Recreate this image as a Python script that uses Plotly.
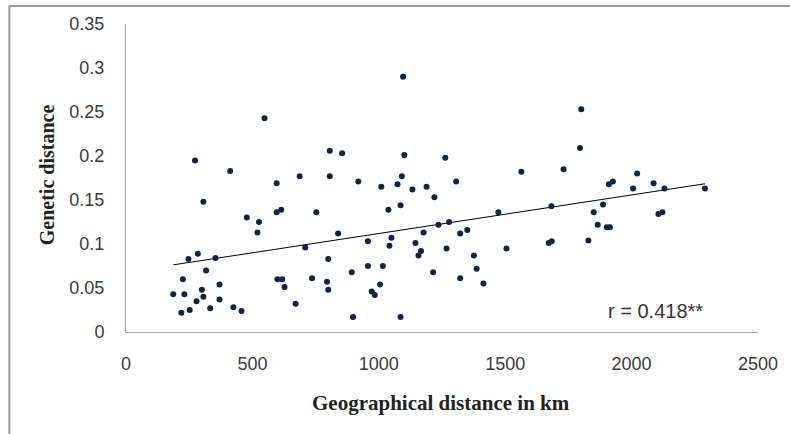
import numpy as np
import plotly.graph_objects as go

geo_km = [548, 273, 412, 306, 596, 687, 806, 806, 855, 596, 614, 753, 478, 526, 520, 839, 709,
          284, 247, 354, 317, 225, 370, 599, 618, 627, 736, 800, 795, 800, 187, 231, 300, 306,
          279, 370, 219, 252, 333, 425, 457, 671,
          1101, 1263, 1564, 919, 1010, 1074, 1091, 1133, 1189, 1306, 1220, 1038, 1086, 1473,
          1683, 957, 1050, 1042, 1145, 1177, 1236, 1278, 1322, 1350, 1268, 1167, 1157, 1376,
          1505, 1672, 957, 1016, 893, 1215, 1387, 1005, 972, 984, 1322, 1414, 898, 1086, 1096,
          1801, 1796, 1731, 2022, 1910, 1926, 2006, 2087, 2130, 2290, 1887, 1850, 1866, 1902,
          1914, 2106, 2122, 1684, 1829]
gen_dist = [0.243, 0.195, 0.183, 0.148, 0.169, 0.177, 0.206, 0.177, 0.203, 0.136, 0.139, 0.136,
            0.130, 0.125, 0.113, 0.112, 0.096, 0.089, 0.083, 0.084, 0.070, 0.060, 0.054, 0.060,
            0.060, 0.051, 0.061, 0.083, 0.057, 0.048, 0.043, 0.043, 0.048, 0.040, 0.035, 0.037,
            0.022, 0.025, 0.027, 0.028, 0.024, 0.032,
            0.201, 0.198, 0.182, 0.171, 0.165, 0.168, 0.177, 0.162, 0.165, 0.171, 0.153, 0.139,
            0.144, 0.136, 0.143, 0.103, 0.107, 0.098, 0.101, 0.113, 0.122, 0.125, 0.112, 0.116,
            0.095, 0.092, 0.087, 0.087, 0.095, 0.101, 0.075, 0.075, 0.068, 0.068, 0.072, 0.054,
            0.046, 0.042, 0.061, 0.055, 0.017, 0.017, 0.290,
            0.253, 0.209, 0.185, 0.180, 0.168, 0.171, 0.163, 0.169, 0.163, 0.163, 0.145, 0.136,
            0.122, 0.119, 0.119, 0.134, 0.136, 0.103, 0.104]

x_ticks = [0, 500, 1000, 1500, 2000, 2500]
y_ticks = [0, 0.05, 0.1, 0.15, 0.2, 0.25, 0.3, 0.35]
y_tick_labels = ["0", "0.05", "0.1", "0.15", "0.2", "0.25", "0.3", "0.35"]
x_title = "Geographical distance in km"
y_title = "Genetic distance"
r_label = "r = 0.418**"

x = np.array(geo_km, dtype=float)
y = np.array(gen_dist, dtype=float)
slope, intercept = np.polyfit(x, y, 1)
x_line = np.array([x.min(), x.max()])
y_line = slope * x_line + intercept

W, H = 790, 434
L, R, T, B = 126, 30, 24, 102
pw, ph = W - L - R, H - T - B

def px(xp):
    return (xp - L) / pw

def py(yp):
    return (H - B - yp) / ph

fig = go.Figure()
fig.add_trace(go.Scatter(x=x_line, y=y_line, mode="lines",
                         line=dict(color="black", width=1), hoverinfo="skip", showlegend=False))
fig.add_trace(go.Scatter(x=x, y=y, mode="markers",
                         marker=dict(color="#14213f", size=6, line=dict(width=0)),
                         showlegend=False))

tick_font = dict(family="Liberation Sans, Arial", size=18, color="#3a3a3a")
fig.update_xaxes(range=[0, 2500], tickvals=x_ticks, ticktext=[str(v) for v in x_ticks],
                 showgrid=False, zeroline=False, showline=True, linecolor="#a6a6a6", linewidth=1,
                 ticks="", tickfont=tick_font, ticklabelstandoff=15)
fig.update_yaxes(range=[0, 0.35], tickvals=y_ticks, ticktext=y_tick_labels,
                 showgrid=False, zeroline=False, showline=True, linecolor="#a6a6a6", linewidth=1,
                 ticks="", tickfont=tick_font, ticklabelstandoff=17)

annotations = [
    dict(text="<b>" + x_title + "</b>", xref="paper", yref="paper", x=px(442), y=py(403),
         showarrow=False, font=dict(family="Liberation Serif, Times New Roman, serif", size=21,
                                    color="#222222"),
         xanchor="center", yanchor="middle"),
    dict(text="<b>" + y_title + "</b>", xref="paper", yref="paper", x=px(47), y=py(175),
         showarrow=False, font=dict(family="Liberation Serif, Times New Roman, serif", size=20,
                                    color="#222222"),
         textangle=-90, xanchor="center", yanchor="middle"),
    dict(text=r_label, xref="paper", yref="paper", x=px(657), y=py(311),
         showarrow=False, font=dict(family="Liberation Sans, Arial", size=20, color="#333333"),
         xanchor="center", yanchor="middle"),
]

shapes = [
    dict(type="line", xref="paper", yref="paper", x0=px(9), x1=px(W + 2), y0=py(6), y1=py(6),
         line=dict(color="#9a9a9a", width=2)),
    dict(type="line", xref="paper", yref="paper", x0=px(9), x1=px(9), y0=py(6), y1=py(H + 2),
         line=dict(color="#9a9a9a", width=2)),
]

fig.update_layout(width=W, height=H, margin=dict(l=L, r=R, t=T, b=B),
                  paper_bgcolor="white", plot_bgcolor="white",
                  annotations=annotations, shapes=shapes, showlegend=False)

fig.write_html("out.html", config={"displayModeBar": False},
               post_script="document.body.style.margin='0px';")
